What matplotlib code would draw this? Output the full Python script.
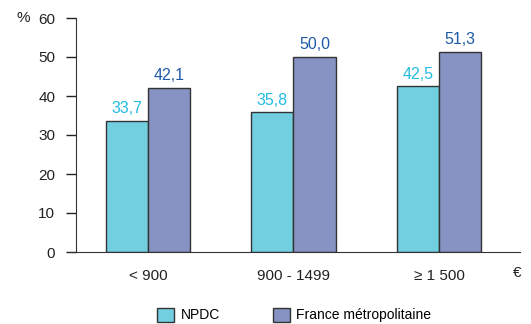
import matplotlib
matplotlib.use("Agg")
import matplotlib.pyplot as plt
from matplotlib.patches import Patch
import numpy as np

plt.rcParams['font.family'] = ['Liberation Sans', 'DejaVu Sans']

categories = ["< 900", "900 - 1499", "≥ 1 500"]
npdc = [33.7, 35.8, 42.5]
france = [42.1, 50.0, 51.3]
series_names = ["NPDC", "France métropolitaine"]

col_npdc = "#72cfe0"
col_fr = "#8592c2"
txt_npdc = "#22bce0"
txt_fr = "#1f5aa6"
edge = "#333333"

fig = plt.figure(figsize=(5.31, 3.24), dpi=100)
ax = fig.add_axes([76 / 531, 72 / 324, (520 - 76) / 531, (252 - 18) / 324])

x = np.arange(len(categories))
w = 0.289
b1 = ax.bar(x - w / 2, npdc, w, color=col_npdc, edgecolor=edge, linewidth=1)
b2 = ax.bar(x + w / 2, france, w, color=col_fr, edgecolor=edge, linewidth=1)

fmt = lambda v: f"{v:.1f}".replace(".", ",")
for rect, v in zip(b1, npdc):
    ax.text(rect.get_x() + rect.get_width() / 2, v + 1.2, fmt(v),
            ha="center", va="bottom", color=txt_npdc, fontsize=11.5)
for rect, v in zip(b2, france):
    ax.text(rect.get_x() + rect.get_width() / 2, v + 1.2, fmt(v),
            ha="center", va="bottom", color=txt_fr, fontsize=11.5)

ax.set_xlim(-0.495, 2.557)
ax.set_ylim(0, 60)
ax.set_yticks(range(0, 61, 10))
ax.set_xticks(x)
ax.set_xticklabels(categories)
ax.tick_params(axis="x", length=0, pad=12, labelsize=11, colors="#222222")
ax.tick_params(axis="y", length=7, width=1, pad=8, labelsize=11, colors="#222222")
for s in ["top", "right"]:
    ax.spines[s].set_visible(False)
ax.spines["left"].set_color("#333333")
ax.spines["bottom"].set_color("#333333")
ax.spines["bottom"].set_bounds(-0.547, 2.557)
ax.spines["bottom"].set_clip_on(False)

fig.text(23 / 531, 1 - 18 / 324, "%", ha="center", va="center", fontsize=11, color="#222222")
fig.text(517 / 531, 1 - 273 / 324, "€", ha="center", va="center", fontsize=11, color="#222222")

handles = [Patch(facecolor=col_npdc, edgecolor=edge, linewidth=1),
           Patch(facecolor=col_fr, edgecolor=edge, linewidth=1)]
fig.legend(handles, series_names, loc="center", bbox_to_anchor=(294 / 531, 1 - 315 / 324),
           ncol=2, frameon=False, fontsize=10, handlelength=1.25, handleheight=1.2,
           columnspacing=3.8, handletextpad=0.45)

fig.savefig("out.png", dpi=100)
